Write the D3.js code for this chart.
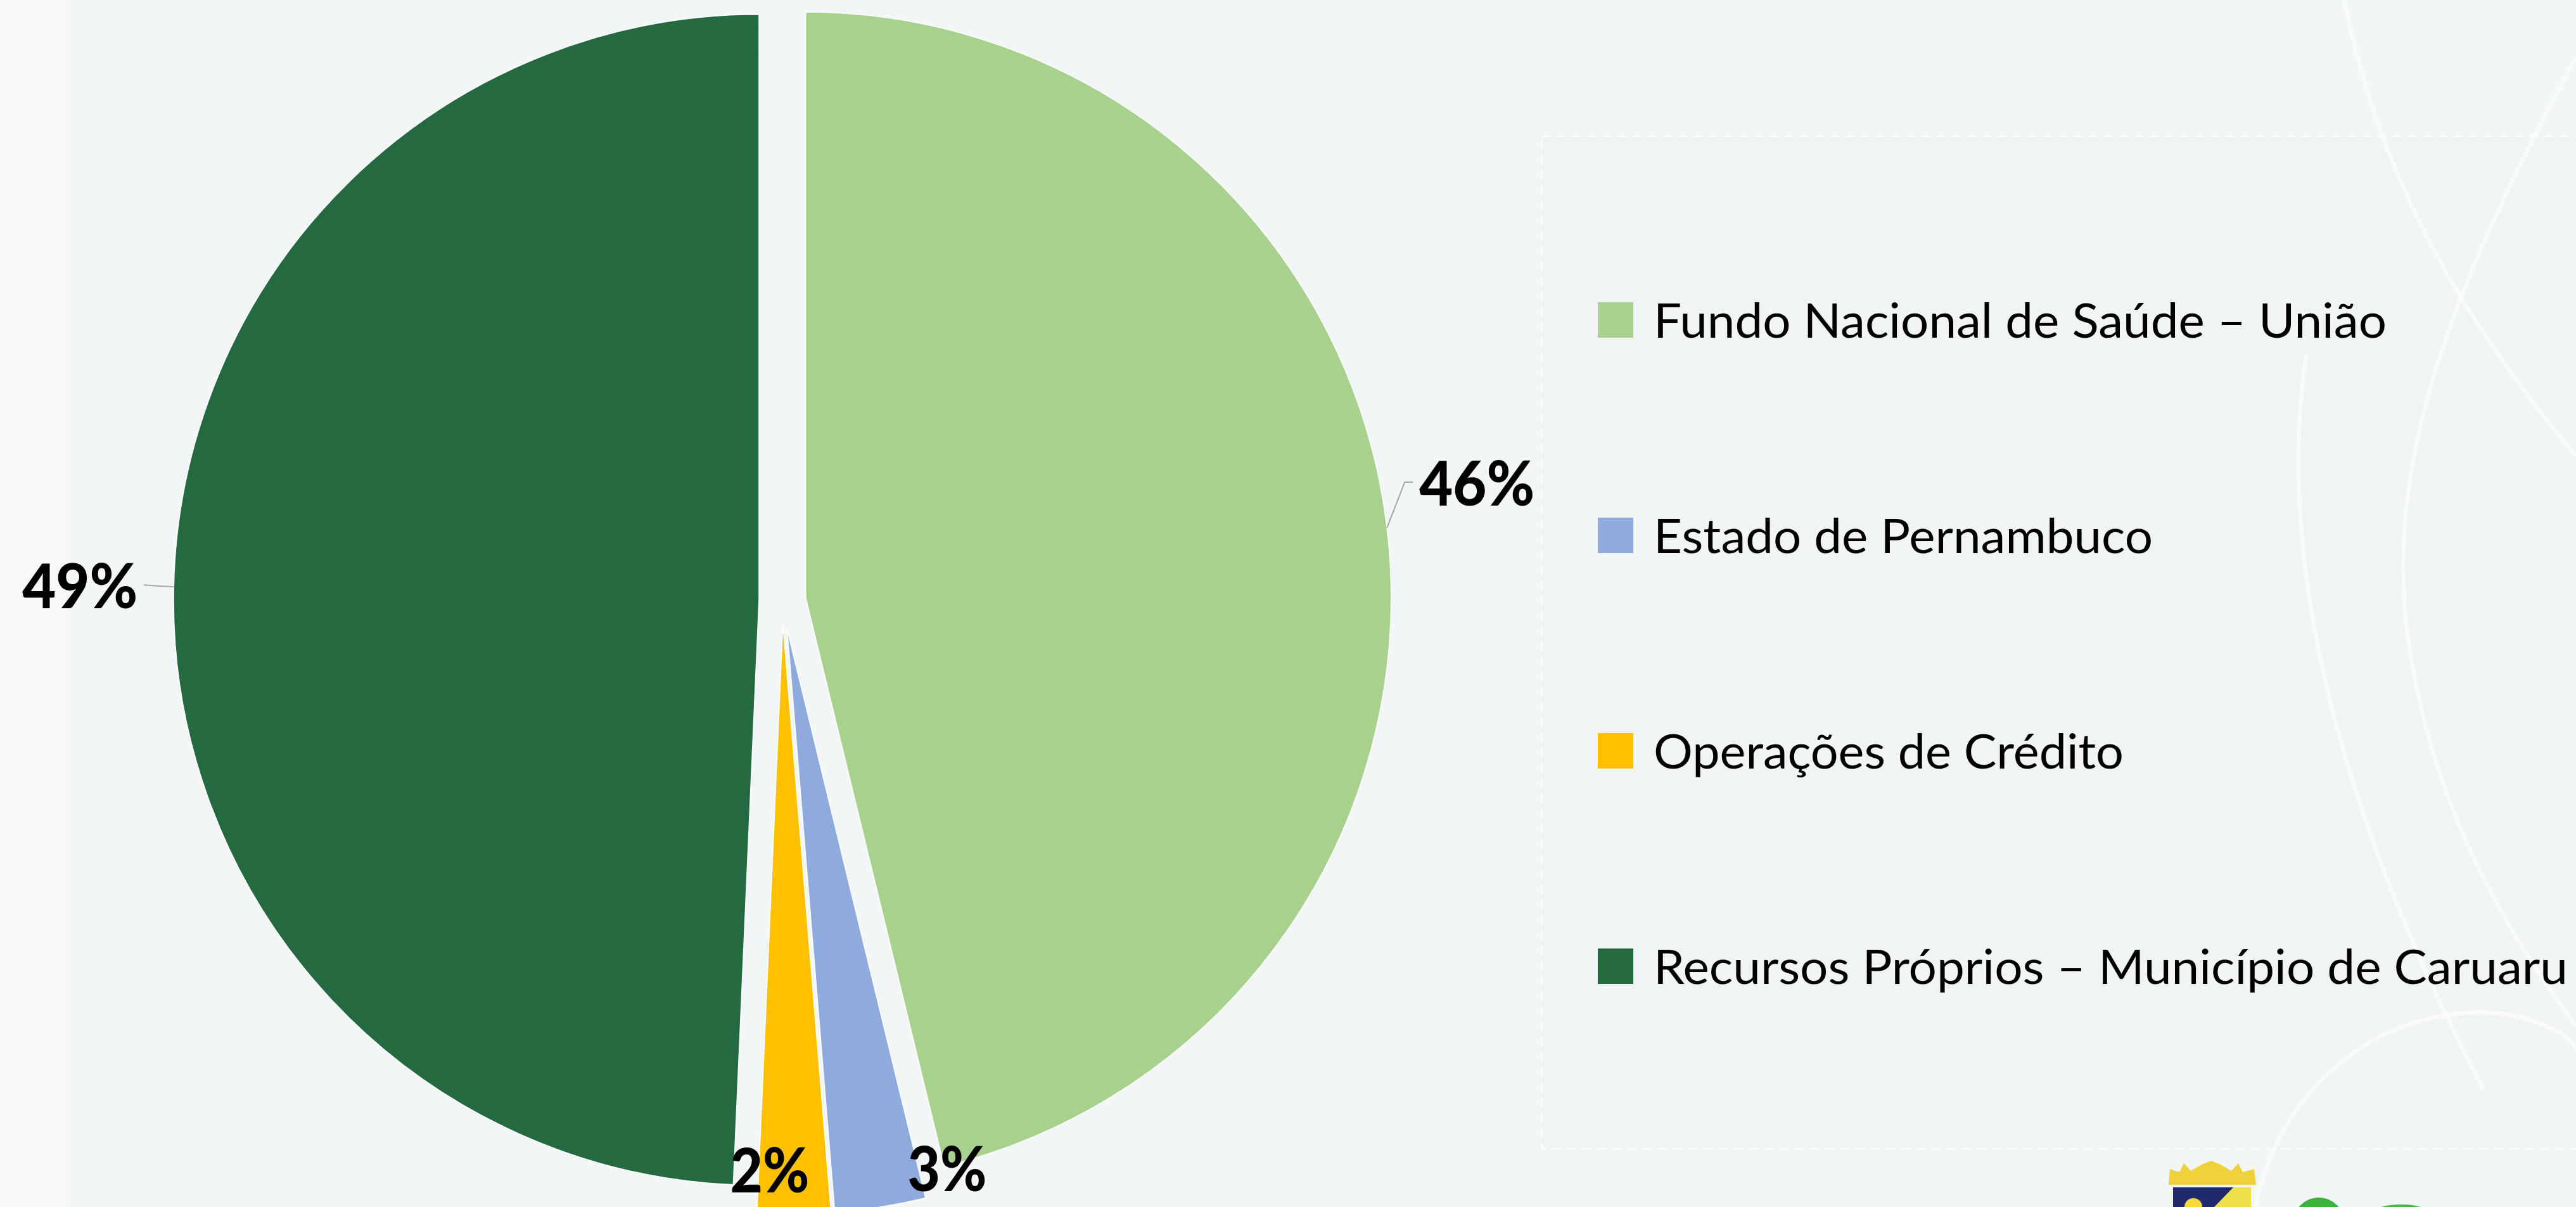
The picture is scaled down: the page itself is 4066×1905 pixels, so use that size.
<!DOCTYPE html>
<html>
<head>
<meta charset="utf-8">
<script src="https://cdn.jsdelivr.net/npm/d3@7"></script>
<style>
  body { margin: 0; background: #f3f6f6; overflow: hidden; }
  svg { display: block; }
</style>
</head>
<body>
<svg id="chart"></svg>
<script>
// data
const categories = [
  "Fundo Nacional de Saúde – União",
  "Estado de Pernambuco",
  "Operações de Crédito",
  "Recursos Próprios – Município de Caruaru"
];
const shares = [46.2, 2.5, 2.0, 49.3];
const sliceColors = ["#A9D18E", "#8FAADC", "#FFC000", "#236A40"];
const pctLabels = shares.map(v => Math.round(v) + "%");

const width = 4066, height = 1905;
const cx = 1235, cy = 947.5, R = 924;
const explode = [37, 46, 37, 37];

// label placement (style/layout, not data)
const labelLayout = [
  {leader: true, elbow: [28, -72], run: 13, anchor: "start", len: 182},
  {leader: false, r: 863, nudge: [115, 0], anchor: "middle", len: 125},
  {leader: false, r: 863, nudge: [-37, 0], anchor: "middle", len: 125},
  {leader: true, elbow: [-47, -3], run: 0, anchor: "end", len: 182}
];

const svg = d3.select("#chart").attr("width", width).attr("height", height);

// background
const bg = svg.append("g");
bg.append("rect").attr("width", width).attr("height", height).attr("fill", "#f3f6f6");
bg.append("rect").attr("x", 0).attr("y", 0).attr("width", 110).attr("height", height).attr("fill", "#f7f8f8");
bg.append("rect")
  .attr("x", 2433).attr("y", 215).attr("width", 1700).attr("height", 1598)
  .attr("fill", "#f1f4f4").attr("stroke", "#ffffff").attr("stroke-width", 3)
  .attr("stroke-dasharray", "14,10").attr("stroke-opacity", 0.8);
const curves = [
  "M3700,0 C3760,300 3900,520 4066,720",
  "M4066,90 C3900,400 3760,700 3800,1000 C3840,1300 3980,1500 4066,1620",
  "M3640,560 C3590,900 3700,1300 3920,1720",
  "M3560,1905 C3600,1700 3780,1580 3950,1600 C4020,1610 4066,1640 4066,1660"
];
bg.selectAll("path.curve").data(curves).enter().append("path")
  .attr("class", "curve").attr("d", d => d)
  .attr("fill", "none").attr("stroke", "#ffffff").attr("stroke-width", 7).attr("opacity", 0.6);

// pie
const pie = d3.pie().sort(null).value(d => d.share);
const table = categories.map((c, i) => ({name: c, share: shares[i], color: sliceColors[i], label: pctLabels[i]}));
const arcs = pie(table);
const arc = d3.arc().innerRadius(0).outerRadius(R);

const mid = d => (d.startAngle + d.endAngle) / 2;
const dir = a => [Math.sin(a), -Math.cos(a)];

const pieG = svg.append("g");
arcs.forEach((d, i) => {
  const [ux, uy] = dir(mid(d));
  d.ox = cx + explode[i] * ux;
  d.oy = cy + explode[i] * uy;
});

pieG.selectAll("path.slice").data(arcs).enter().append("path")
  .attr("class", "slice")
  .attr("transform", d => `translate(${d.ox},${d.oy})`)
  .attr("d", arc)
  .attr("fill", d => d.data.color)
  .attr("stroke", "#ffffff")
  .attr("stroke-width", 1.5);

// data labels
const labG = svg.append("g");
arcs.forEach((d, i) => {
  const L = labelLayout[i];
  const [ux, uy] = dir(mid(d));
  let tx, ty;
  if (L.leader) {
    const sx = d.ox + R * ux, sy = d.oy + R * uy;
    const ex = sx + L.elbow[0], ey = sy + L.elbow[1];
    const rx = ex + (L.anchor === "start" ? L.run : -L.run);
    labG.append("polyline")
      .attr("points", `${sx},${sy} ${ex},${ey} ${rx},${ey}`)
      .attr("fill", "none").attr("stroke", "#a6a6a6").attr("stroke-width", 2);
    tx = rx + (L.anchor === "start" ? 10 : -10);
    ty = ey + 37;
  } else {
    tx = d.ox + L.r * ux + L.nudge[0];
    ty = d.oy + L.r * uy + L.nudge[1] + 35;
  }
  labG.append("text")
    .attr("x", tx).attr("y", ty)
    .attr("text-anchor", L.anchor)
    .attr("font-family", "Lato, 'Open Sans', sans-serif")
    .attr("font-weight", 900)
    .attr("font-size", 98)
    .attr("fill", "#000000")
    .attr("textLength", L.len)
    .attr("lengthAdjust", "spacingAndGlyphs")
    .text(d.data.label);
});

// legend
const legendTop = 505, legendStep = 340;
const legendWidths = [1157, 788, 742, 1443];
const leg = svg.append("g").attr("transform", "translate(2522,0)");
const items = leg.selectAll("g.item").data(table).enter().append("g")
  .attr("class", "item")
  .attr("transform", (d, i) => `translate(0,${legendTop + i * legendStep})`);
items.append("rect")
  .attr("x", 0).attr("y", -28).attr("width", 56).attr("height", 56)
  .attr("fill", d => d.color);
items.append("text")
  .attr("x", 88).attr("y", 28)
  .attr("font-family", "Lato, 'Open Sans', sans-serif")
  .attr("font-size", 76)
  .attr("fill", "#000000")
  .attr("textLength", (d, i) => legendWidths[i])
  .attr("lengthAdjust", "spacingAndGlyphs")
  .text(d => d.name);

// logo fragment, bottom right
const logo = svg.append("g");
logo.append("path")
  .attr("d", "M3423,1870 L3425,1845 L3440,1850 L3447,1836 L3458,1848 L3475,1838 L3490,1832 L3505,1838 L3522,1848 L3533,1836 L3540,1850 L3558,1845 L3561,1870 Z")
  .attr("fill", "#efd23a");
logo.append("rect").attr("x", 3430).attr("y", 1874).attr("width", 123).attr("height", 31).attr("fill", "#efe04a");
logo.append("path").attr("d", "M3430,1874 L3525,1874 L3495,1905 L3430,1905 Z").attr("fill", "#1e2a6b");
logo.append("circle").attr("cx", 3462).attr("cy", 1905).attr("r", 14).attr("fill", "#f6d93a");
logo.append("circle").attr("cx", 3660).attr("cy", 1930).attr("r", 40).attr("fill", "#3db33d");
logo.append("ellipse").attr("cx", 3790).attr("cy", 1915).attr("rx", 45).attr("ry", 14).attr("fill", "#49b849");
</script>
</body>
</html>
